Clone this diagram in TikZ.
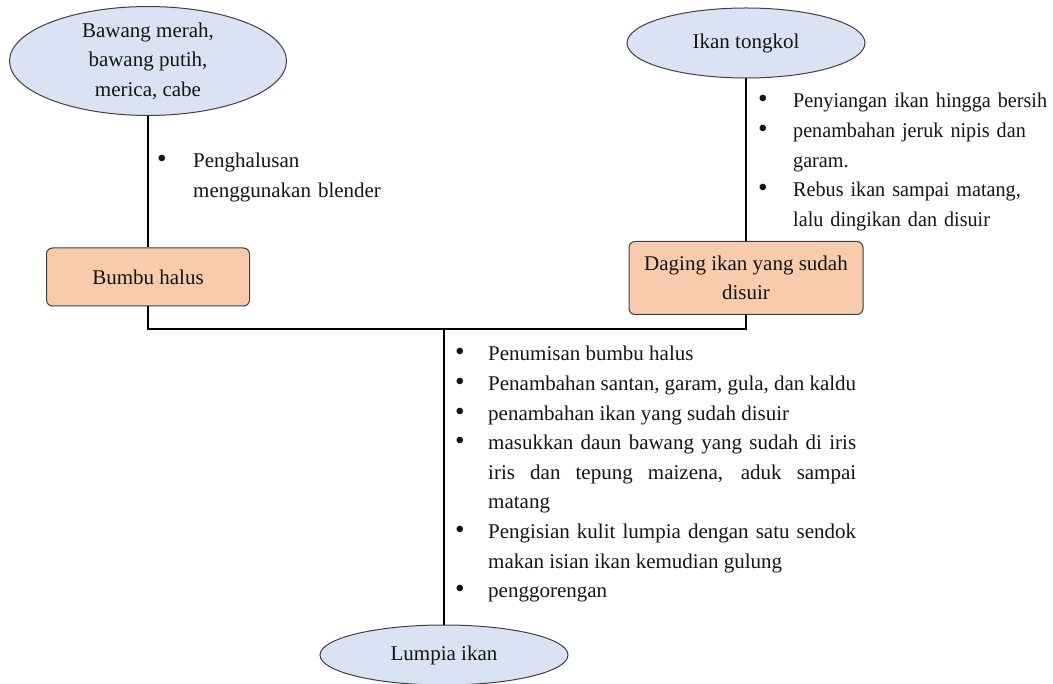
\documentclass[tikz,border=0pt]{standalone}
\usepackage{fontspec}
\setmainfont{Liberation Serif}
\newfontfamily\narrowserif[FakeStretch=0.96]{Liberation Serif}
\usetikzlibrary{shapes.geometric}
\definecolor{ovalblue}{HTML}{DAE3F3}
\definecolor{boxorange}{HTML}{F8CBAD}
\definecolor{edgegray}{HTML}{404040}
\definecolor{inkgray}{HTML}{141414}

\begin{document}
\begin{tikzpicture}[x=1pt, y=-1pt, font=\fontsize{21}{29.6}\selectfont, text=inkgray]
    \tikzstyle{oval}=[draw=edgegray, fill=ovalblue, shape=ellipse, line width=1pt, inner sep=0pt, align=center]
    \tikzstyle{stepbox}=[draw=edgegray, fill=boxorange, rounded corners=6pt, line width=1pt, align=center]
    \tikzstyle{link}=[line width=2.8pt, black]
    \tikzstyle{dot}=[anchor=base, inner sep=0pt, scale=1.3]
    \tikzstyle{note}=[anchor=base west, inner sep=0pt, align=left]

    \useasboundingbox (0,0) rectangle (1053,684);

    % draw ovals
    \node [oval, minimum width=277, minimum height=108] (bawang) at (148,61) {Bawang merah,\\ bawang putih,\\ merica, cabe};
    \node [oval, minimum width=238, minimum height=70] (tongkol) at (746,43) {Ikan tongkol};
    \node [oval, minimum width=248, minimum height=60] (lumpia) at (444,655) {Lumpia ikan};

    % draw boxes
    \node [stepbox, minimum width=203, minimum height=58] (bumbu) at (148,277) {Bumbu halus};
    \node [stepbox, minimum width=234, minimum height=73] (daging) at (746,278) {Daging ikan yang sudah\\ disuir};

    \coordinate (joint) at (444,329);

    % draw lines
    \draw [link] (bawang.south) -- (bumbu.north);
    \draw [link] (tongkol.south) -- (daging.north);
    \draw [link] (bumbu.south) |- (joint) -| (daging.south);
    \draw [link] (joint) -- (lumpia.north);

    % draw text
    \node [dot] (dot-halus) at (162,168) {\textbullet};
    \node [note, text width=220] (halus) at (193,168) {Penghalusan\\ menggunakan blender};

    \foreach \y/\t [count=\i] in {108/{Penyiangan ikan hingga bersih}, 137.6/{penambahan jeruk nipis dan\\ garam.}, 196.8/{Rebus ikan sampai matang,\\ lalu dingikan dan disuir}}
    {
    \node [dot] (dot-ikan-\i) at (763,\y) {\textbullet};
    \node [note, text width=258, font=\narrowserif\fontsize{21}{29.6}\selectfont] (ikan-\i) at (793,\y) {\t};
    }

    \foreach \y/\t [count=\i] in {361/{Penumisan bumbu halus}, 390.6/{Penambahan santan, garam, gula, dan kaldu}, 420.2/{penambahan ikan yang sudah disuir}, 449.8/{masukkan daun bawang yang sudah di iris\linebreak iris dan tepung maizena, aduk sampai\linebreak matang}, 538.6/{Pengisian kulit lumpia dengan satu sendok makan isian ikan kemudian gulung}, 597.8/{penggorengan}}
    {
    \node [dot] (dot-olah-\i) at (460,\y) {\textbullet};
    \node [note, text width=368, align=justify] (olah-\i) at (488,\y) {\t};
    }
\end{tikzpicture}
\end{document}
